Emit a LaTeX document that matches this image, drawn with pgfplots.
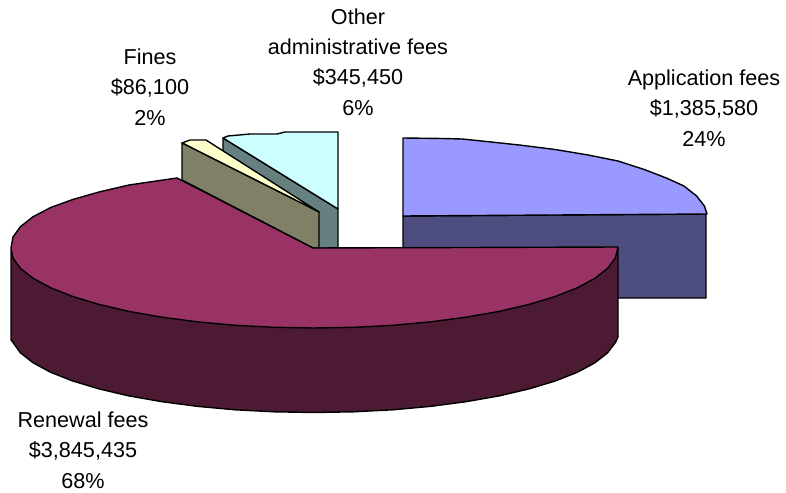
\documentclass[border=0pt]{standalone}
\usepackage{pgfplots}
\pgfplotsset{compat=1.18}
\usepackage{fontspec}
\setmainfont{Liberation Sans}
\definecolor{appTop}{HTML}{9999FF}
\definecolor{appSide}{HTML}{4D4D80}
\definecolor{renTop}{HTML}{993366}
\definecolor{renSide}{HTML}{4D1A33}
\definecolor{finTop}{HTML}{FFFFCC}
\definecolor{finSide}{HTML}{808066}
\definecolor{othTop}{HTML}{CCFFFF}
\definecolor{othSide}{HTML}{668080}
\tikzset{lbl/.style={font=\fontsize{21.6}{30.4}\selectfont, align=center, anchor=center, inner sep=0pt}}
\begin{document}
\begin{tikzpicture}
\path[use as bounding box] (0,0) rectangle (786pt,492pt);
\begin{axis}[
  at={(0,0)}, anchor=south west,
  scale only axis, width=786pt, height=492pt,
  xmin=0, xmax=786, ymin=0, ymax=492, y dir=reverse,
  hide axis, clip=false,
  every axis plot/.append style={draw=black, line width=1.4pt, line join=round},
]
% Application fees
\addplot[fill=appSide] coordinates {(403,216)(706,214)(706,298)(403,298)} --cycle;
\addplot[fill=appTop] coordinates {(403,138)(442.7,138.5)(462,139)(481.7,141)(519.3,145)(555,149.5)(588.1,155)(618,161)(644.2,169.5)(666.3,178)(683.9,186)(696.6,196)(704.4,206)(707,214)(403,216)} --cycle;
% Other administrative fees
\addplot[fill=othSide] coordinates {(223,138)(338,209)(338,248)(300,248)(223,186)} --cycle;
\addplot[fill=othTop] coordinates {(223,138)(228,136)(250,134)(277,134)(285,132)(338,132)(338,209)} --cycle;
% Fines
\addplot[fill=finTop] coordinates {(182,143)(190,140)(206,140)(319,212)} --cycle;
\addplot[fill=finSide] coordinates {(182,143)(319,212)(319,248)(313,248)(182,180)} --cycle;
% Renewal fees
\addplot[fill=renSide] coordinates {(11,250)(11,340)(13,342.5)(20.4,352.8)(33.1,362.8)(50.7,372.3)(72.8,381)(99,388.9)(128.9,395.9)(162,401.7)(197.7,406.4)(235.3,409.8)(274.3,411.8)(314,412.5)(353.7,411.8)(392.7,409.8)(430.3,406.4)(466,401.7)(499.1,395.9)(529,388.9)(555.2,381)(577.3,372.3)(594.9,362.8)(607.6,352.8)(615.4,342.5)(618,337)(618,248)(330,300)} --cycle;
\addplot[fill=renTop] coordinates {(313,248)(618,247)(615.4,258)(607.6,268.3)(594.9,278.3)(577.3,287.8)(555.2,296.5)(529,304.4)(499.1,311.4)(466,317.2)(430.3,321.9)(392.7,325.3)(353.7,327.3)(314,328)(274.3,327.3)(235.3,325.3)(197.7,321.9)(162,317.2)(128.9,311.4)(99,304.4)(72.8,296.5)(50.7,287.8)(33.1,278.3)(20.4,268.3)(13,258)(11,248)(13,237)(20.4,226.7)(33.1,216.7)(50.7,207.5)(72.8,199.5)(99,192)(129,185)(153,181.5)(177,178)} --cycle;
% Slice labels
\node[lbl] at (axis cs:704,108) {Application fees\\\$1,385,580\\24\%};
\node[lbl] at (axis cs:358,62) {Other\\administrative fees\\\$345,450\\6\%};
\node[lbl] at (axis cs:150,87) {Fines\\\$86,100\\2\%};
\node[lbl] at (axis cs:83,450) {Renewal fees\\\$3,845,435\\68\%};
\end{axis}
\end{tikzpicture}
\end{document}
